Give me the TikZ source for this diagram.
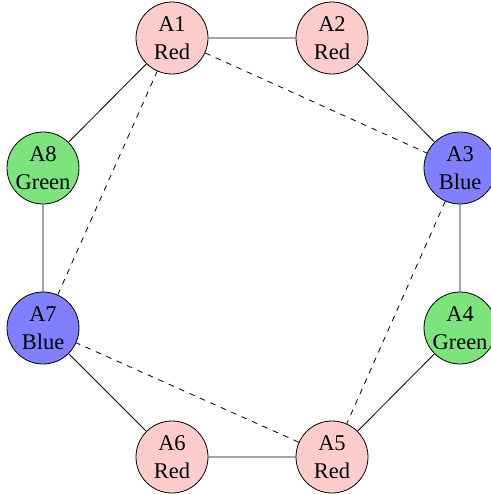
\documentclass[tikz,border=0pt]{standalone}
\usepackage{fontspec}
\setmainfont{Liberation Serif}
\definecolor{nodered}{RGB}{255,204,204}
\definecolor{nodeblue}{RGB}{128,128,255}
\definecolor{nodegreen}{RGB}{125,227,125}
\tikzset{
  vtx/.style={circle, draw=black, line width=0.8pt, minimum size=72pt, inner sep=0pt,
    align=center, font=\fontsize{22.5}{28.4}\selectfont},
  vred/.style={vtx, fill=nodered},
  vblue/.style={vtx, fill=nodeblue},
  vgreen/.style={vtx, fill=nodegreen},
  solidedge/.style={draw=black, line width=0.8pt},
  dashedge/.style={draw=black, line width=0.8pt, dash pattern=on 5.7pt off 5.7pt}
}
\begin{document}
\begin{tikzpicture}[x=1pt, y=-1pt]
\useasboundingbox (0,0) rectangle (490,495);
\node[vred]   (A1) at (172,38)  {A1\\Red};
\node[vred]   (A2) at (332,38)  {A2\\Red};
\node[vblue]  (A3) at (460,168) {A3\\Blue};
\node[vgreen] (A4) at (460,328) {A4\\Green};
\node[vred]   (A5) at (332,457) {A5\\Red};
\node[vred]   (A6) at (172,457) {A6\\Red};
\node[vblue]  (A7) at (43,328)  {A7\\Blue};
\node[vgreen] (A8) at (43,168)  {A8\\Green};
\path[solidedge] (A1) -- (A2) (A2) -- (A3) (A3) -- (A4) (A4) -- (A5)
  (A5) -- (A6) (A6) -- (A7) (A7) -- (A8) (A8) -- (A1);
\path[dashedge] (A1) -- (A3) (A3) -- (A5) (A5) -- (A7) (A7) -- (A1);
\end{tikzpicture}
\end{document}
